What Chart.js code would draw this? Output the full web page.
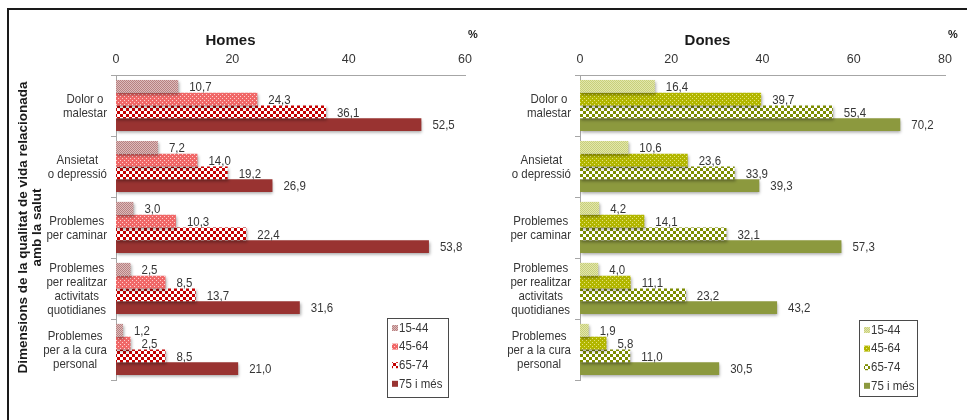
<!DOCTYPE html>
<html>
<head>
<meta charset="utf-8">
<script src="https://cdn.jsdelivr.net/npm/chart.js@4.4.1/dist/chart.umd.min.js"></script>
<style>
  body { margin: 0; background: #fff; }
  #wrap { position: relative; width: 967px; height: 420px; overflow: hidden; }
  #frame { position: absolute; left: 7px; top: 8px; width: 990px; height: 440px; border: 2px solid #1a1a1a; }
  canvas { position: absolute; top: 0; }
  #homesChart { left: 0; }
  #donesChart { left: 490px; }
</style>
</head>
<body>
<div id="wrap">
  <div id="frame"></div>
  <canvas id="homesChart" width="490" height="420"></canvas>
  <canvas id="donesChart" width="477" height="420"></canvas>
</div>
<script>
// Categories and age groups
const dimensions = [
  ['Dolor o', 'malestar'],
  ['Ansietat', 'o depressió'],
  ['Problemes', 'per caminar'],
  ['Problemes', 'per realitzar', 'activitats', 'quotidianes'],
  ['Problemes', 'per a la cura', 'personal']
];
const ageGroups = ['15-44', '45-64', '65-74', '75 i més'];

// Homes (%)
const homes15_44 = [10.7, 7.2, 3.0, 2.5, 1.2];
const homes45_64 = [24.3, 14.0, 10.3, 8.5, 2.5];
const homes65_74 = [36.1, 19.2, 22.4, 13.7, 8.5];
const homes75 = [52.5, 26.9, 53.8, 31.6, 21.0];

// Dones (%)
const dones15_44 = [16.4, 10.6, 4.2, 4.0, 1.9];
const dones45_64 = [39.7, 23.6, 14.1, 11.1, 5.8];
const dones65_74 = [55.4, 33.9, 32.1, 23.2, 11.0];
const dones75 = [70.2, 39.3, 57.3, 43.2, 30.5];

// Axis ticks
const homesTicks = [0, 20, 40, 60];
const donesTicks = [0, 20, 40, 60, 80];

const sans = "'Liberation Sans', Arial, sans-serif";
const textColor = '#363636';
const axisColor = '#a6a6a6';
const squeeze = 0.85; // condensed look for the small labels

// draws text horizontally condensed, anchored at (x, y)
function narrowText(ctx, txt, x, y) {
  ctx.save();
  ctx.translate(x, y);
  ctx.scale(squeeze, 1);
  ctx.fillText(txt, 0, 0);
  ctx.restore();
}

// --- fill patterns ---
function makePattern(size, draw) {
  const c = document.createElement('canvas');
  c.width = c.height = size;
  const p = c.getContext('2d');
  draw(p, size);
  return p.createPattern(c, 'repeat');
}
function checker(cell, dark, light) {
  return makePattern(cell * 2, (p, s) => {
    p.fillStyle = light; p.fillRect(0, 0, s, s);
    p.fillStyle = dark;
    p.fillRect(0, 0, cell, cell);
    p.fillRect(cell, cell, cell, cell);
  });
}
function dotted(base, dot) {
  return makePattern(4, p => {
    p.fillStyle = base; p.fillRect(0, 0, 4, 4);
    p.fillStyle = dot;
    p.fillRect(0, 0, 1, 1);
    p.fillRect(2, 2, 1, 1);
  });
}

const homesFills = [
  checker(1, '#b88080', '#dcbcbc'),
  dotted('#f06868', '#ffd0d0'),
  checker(3, '#c40000', '#ffffff'),
  '#993331'
];
const donesFills = [
  checker(1, '#c8cf7a', '#e2e6ac'),
  dotted('#b2b600', '#e4e67a'),
  checker(3, '#7c8c00', '#ffffff'),
  '#8c993e'
];

// --- plugins ---
const barShadow = {
  id: 'barShadow',
  beforeDatasetsDraw(chart) {
    const ctx = chart.ctx;
    ctx.save();
    ctx.shadowColor = 'rgba(0,0,0,0.35)';
    ctx.shadowBlur = 3;
    ctx.shadowOffsetX = 1;
    ctx.shadowOffsetY = 2;
  },
  afterDatasetsDraw(chart) {
    chart.ctx.restore();
  }
};

const valueLabels = {
  id: 'valueLabels',
  afterDraw(chart) {
    const ctx = chart.ctx;
    ctx.save();
    ctx.font = '13.5px ' + sans;
    ctx.fillStyle = textColor;
    ctx.textBaseline = 'middle';
    ctx.textAlign = 'left';
    chart.data.datasets.forEach((ds, di) => {
      chart.getDatasetMeta(di).data.forEach((bar, i) => {
        const txt = ds.data[i].toFixed(1).replace('.', ',');
        narrowText(ctx, txt, bar.x + 11, bar.y + 1);
      });
    });
    ctx.restore();
  }
};

// category labels: each block centred on itself, right edge next to the axis
const categoryLabels = {
  id: 'categoryLabels',
  afterDraw(chart) {
    const ctx = chart.ctx;
    const y = chart.scales.y;
    const lh = 14;
    ctx.save();
    ctx.font = '13.5px ' + sans;
    ctx.fillStyle = textColor;
    ctx.textAlign = 'center';
    ctx.textBaseline = 'middle';
    chart.data.labels.forEach((lines, i) => {
      const w = squeeze * Math.max(...lines.map(l => ctx.measureText(l).width));
      const cx = chart.chartArea.left - 9 - w / 2;
      const cy = y.getPixelForValue(i) + 1;
      lines.forEach((l, k) => {
        narrowText(ctx, l, cx, cy + (k - (lines.length - 1) / 2) * lh);
      });
    });
    ctx.restore();
  }
};

const panelTitle = {
  id: 'panelTitle',
  afterDraw(chart, args, opts) {
    const ctx = chart.ctx;
    const a = chart.chartArea;
    ctx.save();
    ctx.fillStyle = '#1a1a1a';
    ctx.textBaseline = 'middle';
    ctx.textAlign = 'center';
    ctx.font = 'bold 15px ' + sans;
    ctx.fillText(opts.text, (a.left + a.right) / 2 + opts.dx, 41);
    ctx.font = 'bold 11px ' + sans;
    ctx.fillText('%', a.right + 8, 35);
    ctx.restore();
  }
};

const legendBox = {
  id: 'legendBox',
  afterDraw(chart, args, opts) {
    const ctx = chart.ctx;
    const a = chart.chartArea;
    const x = Math.round(a.right + opts.dx), y = Math.round(a.bottom + opts.dy);
    ctx.save();
    ctx.fillStyle = '#fff';
    ctx.fillRect(x, y, opts.w, opts.h);
    ctx.strokeStyle = '#4a4a4a';
    ctx.lineWidth = 1;
    ctx.strokeRect(x + 0.5, y + 0.5, opts.w, opts.h);
    ctx.font = '13.5px ' + sans;
    ctx.textBaseline = 'middle';
    ctx.textAlign = 'left';
    chart.data.datasets.forEach((ds, i) => {
      const iy = y + 10 + i * 18.6;
      ctx.fillStyle = ds.backgroundColor;
      ctx.fillRect(x + 5, iy - 3, 6, 6);
      ctx.fillStyle = textColor;
      narrowText(ctx, ds.label, x + 12, iy);
    });
    ctx.restore();
  }
};

function buildChart(canvasId, series, fills, opts) {
  const ctx = document.getElementById(canvasId).getContext('2d');
  return new Chart(ctx, {
    type: 'bar',
    data: {
      labels: dimensions,
      datasets: series.map((values, i) => ({
        label: ageGroups[i],
        data: values,
        backgroundColor: fills[i],
        borderWidth: 0,
        categoryPercentage: 0.84,
        barPercentage: 1.0
      }))
    },
    options: {
      indexAxis: 'y',
      responsive: false,
      animation: false,
      layout: { padding: { top: 0, left: 0, right: opts.padRight, bottom: 40 } },
      plugins: {
        legend: { display: false },
        tooltip: { enabled: false },
        panelTitle: { text: opts.title, dx: opts.titleDx },
        legendBox: opts.legend
      },
      scales: {
        x: {
          position: 'top',
          min: 0,
          max: opts.ticks[opts.ticks.length - 1],
          afterBuildTicks: s => { s.ticks = opts.ticks.map(v => ({ value: v })); },
          afterFit: s => { s.height = 75; },
          grid: { display: false, drawTicks: false },
          border: { display: true, color: axisColor },
          ticks: {
            padding: 8,
            color: textColor,
            font: { family: sans, size: 12.5 }
          }
        },
        y: {
          afterFit: s => { s.width = opts.axisWidth; },
          grid: {
            display: true,
            offset: true,
            drawOnChartArea: false,
            drawTicks: true,
            tickLength: 5,
            color: axisColor
          },
          border: { display: true, color: axisColor },
          ticks: { display: false },
          title: opts.yTitle
        }
      }
    },
    plugins: [barShadow, valueLabels, categoryLabels, panelTitle, legendBox]
  });
}

buildChart('homesChart', [homes15_44, homes45_64, homes65_74, homes75], homesFills, {
  title: 'Homes',
  titleDx: -60,
  ticks: homesTicks,
  axisWidth: 116,
  padRight: 25,
  legend: { dx: -78, dy: -62, w: 61, h: 79 },
  yTitle: {
    display: true,
    text: ['Dimensions de la qualitat de vida relacionada', 'amb la salut'],
    color: '#1a1a1a',
    font: { family: sans, size: 13.5, weight: 'bold', lineHeight: 1.05 },
    padding: { top: 16, bottom: 0 }
  }
});

buildChart('donesChart', [dones15_44, dones45_64, dones65_74, dones75], donesFills, {
  title: 'Dones',
  titleDx: -55,
  ticks: donesTicks,
  axisWidth: 90,
  padRight: 22,
  legend: { dx: -86, dy: -60, w: 58, h: 76 },
  yTitle: { display: false }
});
</script>
</body>
</html>
